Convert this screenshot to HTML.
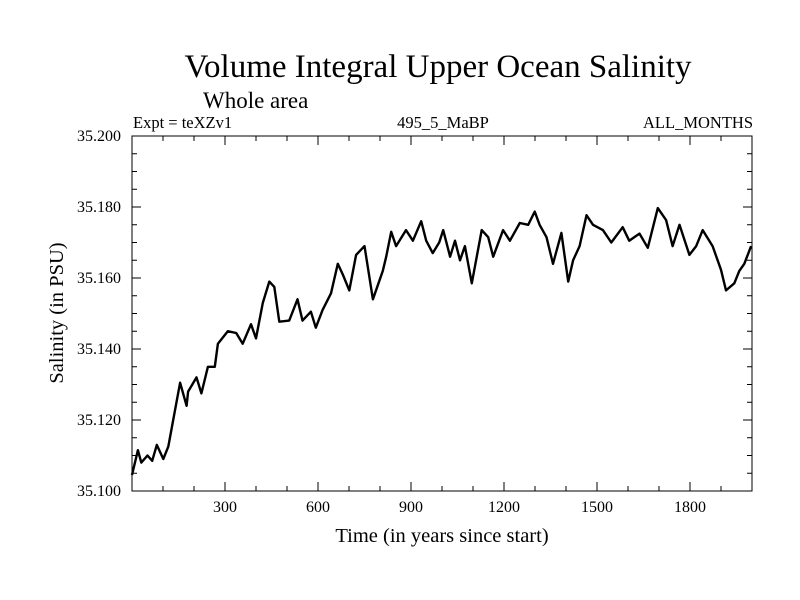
<!DOCTYPE html>
<html><head><meta charset="utf-8"><style>
html,body{margin:0;padding:0;background:#fff}
svg{display:block;font-family:"Liberation Serif",serif}
</style></head><body>
<svg width="800" height="600">
<text x="438" y="77" font-size="33" text-anchor="middle">Volume Integral Upper Ocean Salinity</text>
<text x="203" y="108" font-size="23">Whole area</text>
<text x="133" y="128" font-size="16.5">Expt = teXZv1</text>
<text x="443" y="128" font-size="16.5" text-anchor="middle">495_5_MaBP</text>
<text x="753" y="128" font-size="16.5" text-anchor="end">ALL_MONTHS</text>
<text x="442" y="542" font-size="20.5" text-anchor="middle">Time (in years since start)</text>
<text transform="translate(63,313) rotate(-90)" font-size="20.5" text-anchor="middle">Salinity (in PSU)</text>
<g id="axes"></g>
<path id="line" fill="none" stroke="#000" stroke-width="2.4" stroke-linejoin="round"/>
<rect x="132" y="136" width="620" height="355" fill="none" stroke="#000" stroke-width="1"/>
</svg>
<script>
const years=[0,19,30,50,65,80,101,117,133,155,176,181,208,224,245,267,277,309,336,357,384,400,422,443,459,475,507,534,550,577,593,615,642,664,680,701,723,750,777,809,820,836,852,884,906,933,949,970,991,1004,1026,1042,1058,1074,1096,1128,1149,1165,1197,1219,1251,1278,1299,1315,1337,1358,1385,1407,1423,1444,1466,1487,1519,1546,1583,1604,1637,1664,1696,1723,1744,1766,1798,1820,1841,1873,1900,1916,1943,1959,1975,1997];
const salinity=[35.1045,35.1115,35.108,35.110,35.1085,35.113,35.109,35.1125,35.120,35.1305,35.124,35.128,35.132,35.1275,35.135,35.135,35.1415,35.145,35.1445,35.1415,35.147,35.143,35.153,35.159,35.1575,35.1477,35.148,35.154,35.148,35.1505,35.146,35.151,35.1557,35.164,35.161,35.1565,35.1665,35.169,35.154,35.162,35.166,35.173,35.169,35.1735,35.1705,35.176,35.1705,35.167,35.170,35.1735,35.166,35.1705,35.165,35.169,35.1585,35.1735,35.1715,35.166,35.1735,35.1705,35.1755,35.175,35.1787,35.175,35.1715,35.164,35.1727,35.159,35.165,35.169,35.1777,35.175,35.1735,35.170,35.1743,35.1705,35.1725,35.1685,35.1797,35.1763,35.169,35.175,35.1665,35.169,35.1735,35.169,35.1623,35.1565,35.1585,35.162,35.164,35.169];
const xTicks=[300,600,900,1200,1500,1800];
const yTicks=[35.100,35.120,35.140,35.160,35.180,35.200];
const yLabels=["35.100","35.120","35.140","35.160","35.180","35.200"];
const L=132,R=752,T=136,B=491;
const xs=v=>L+(v-0)/2000*(R-L);
const ys=v=>B-(v-35.1)/0.1*(B-T);
const NS="http://www.w3.org/2000/svg";
const g=document.getElementById('axes');
function ln(x1,y1,x2,y2,name){const e=document.createElementNS(NS,'line');e.setAttribute('x1',x1);e.setAttribute('y1',y1);e.setAttribute('x2',x2);e.setAttribute('y2',y2);e.setAttribute('stroke','#000');e.setAttribute('stroke-width','1');


g.appendChild(e);}
for(let yr=100;yr<2000;yr+=100){const x=xs(yr);const major=yr%300===0;const len=major?9:5;ln(x,B,x,B-len,'x-tick');ln(x,T,x,T+len,'x-tick-top');}
for(let k=1;k<20;k++){const v=35.1+k*0.005;const y=ys(v);const major=k%4===0;const len=major?9:5;ln(L,y,L+len,y,'y-tick');ln(R,y,R-len,y,'y-tick-right');}
xTicks.forEach(t=>{const e=document.createElementNS(NS,'text');e.setAttribute('x',xs(t));e.setAttribute('y',B+21);e.setAttribute('font-size','16');e.setAttribute('text-anchor','middle');e.textContent=t;


g.appendChild(e);});
yTicks.forEach((t,i)=>{const e=document.createElementNS(NS,'text');e.setAttribute('x',L-11);e.setAttribute('y',ys(t)+5);e.setAttribute('font-size','16');e.setAttribute('text-anchor','end');e.textContent=yLabels[i];


g.appendChild(e);});
document.getElementById('line').setAttribute('d',years.map((y,i)=>(i?'L':'M')+xs(y).toFixed(1)+','+ys(salinity[i]).toFixed(1)).join(''));
</script>
</body></html>
